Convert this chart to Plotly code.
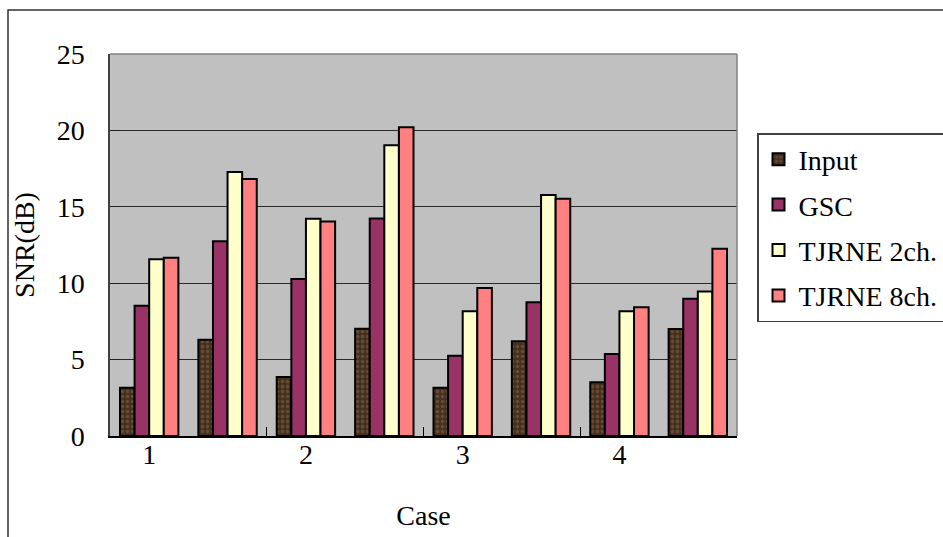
import plotly.graph_objects as go

# SNR (dB) per configuration; two configurations per case, eight bar groups total
case_labels = ["1", "2", "3", "4"]
group_pos = [0, 1, 2, 3, 4, 5, 6, 7]

snr_input = [3.16, 6.30, 3.86, 7.02, 3.16, 6.20, 3.51, 7.00]
snr_gsc = [8.53, 12.74, 10.27, 14.24, 5.26, 8.75, 5.37, 8.99]
snr_tjrne2 = [11.56, 17.28, 14.22, 19.02, 8.16, 15.77, 8.16, 9.45]
snr_tjrne8 = [11.67, 16.82, 14.03, 20.20, 9.69, 15.53, 8.42, 12.26]

series_names = ["Input", "GSC", "TJRNE 2ch.", "TJRNE 8ch."]
y_ticks = [0, 5, 10, 15, 20, 25]

FONT = "Liberation Serif, Times New Roman, serif"

fig = go.Figure()

fig.add_trace(go.Bar(
    x=group_pos, y=snr_input, name=series_names[0], legendgroup="a",
    marker=dict(color="#4a3020", line=dict(color="black", width=2),
                pattern=dict(shape=".", fgcolor="#8a6a4c", bgcolor="#46301f",
                             size=5, solidity=0.35)),
))
fig.add_trace(go.Bar(
    x=group_pos, y=snr_gsc, name=series_names[1], legendgroup="b",
    marker=dict(color="#993366", line=dict(color="black", width=2)),
))
fig.add_trace(go.Bar(
    x=group_pos, y=snr_tjrne2, name=series_names[2], legendgroup="c",
    marker=dict(color="#FFFFCC", line=dict(color="black", width=2)),
))
fig.add_trace(go.Bar(
    x=group_pos, y=snr_tjrne8, name=series_names[3], legendgroup="d",
    marker=dict(color="#FF8080", line=dict(color="black", width=2)),
))

L, R, T, B = 110, 206, 54, 101
W, H = 943, 537
pw, ph = W - L - R, H - T - B

fig.update_layout(
    width=W, height=H,
    margin=dict(l=L, r=R, t=T, b=B, autoexpand=False),
    paper_bgcolor="white",
    plot_bgcolor="#C0C0C0",
    barmode="group",
    bargap=0.255,
    bargroupgap=0,
    font=dict(family=FONT, size=28, color="black"),
    showlegend=True,
    legend=dict(
        x=(757 - L) / pw, y=(H - B - 133) / ph, xanchor="left", yanchor="top",
        bgcolor="white", bordercolor="#404040", borderwidth=1.5,
        font=dict(family=FONT, size=28, color="black"),
        traceorder="grouped", tracegroupgap=6,
        itemwidth=30,
    ),
    xaxis=dict(
        range=[-0.5, 7.5],
        tickmode="array", tickvals=[0, 2, 4, 6], ticktext=case_labels,
        ticks="", ticklabelstandoff=-8,
        minor=dict(tickmode="array", tickvals=[1.5, 3.5, 5.5],
                   ticks="inside", ticklen=9, tickcolor="black", tickwidth=1),
        showgrid=False, zeroline=False,
        showline=True, linecolor="black", linewidth=2,
        title=dict(text="Case", standoff=37, font=dict(family=FONT, size=28)),
    ),
    yaxis=dict(
        range=[0, 25],
        tickmode="array", tickvals=y_ticks,
        ticks="inside", ticklen=9, tickcolor="#202020",
        ticklabelstandoff=18,
        showgrid=True, gridcolor="#2a2a2a", gridwidth=1,
        zeroline=False,
        showline=True, linecolor="#404040", linewidth=1.5,
        title=dict(text="SNR(dB)", standoff=14, font=dict(family=FONT, size=28)),
    ),
    shapes=[
        # grey frame on the top and right of the plotting area
        dict(type="line", xref="paper", yref="paper", x0=0, x1=1, y0=1, y1=1,
             line=dict(color="#808080", width=1.5)),
        dict(type="line", xref="paper", yref="paper", x0=1, x1=1, y0=0, y1=1,
             line=dict(color="#808080", width=1.5)),
        # outer chart border
        dict(type="rect", xref="paper", yref="paper",
             x0=(8 - L) / pw, x1=(W + 20 - L) / pw,
             y0=-(B + 20) / ph, y1=(H - B - 10) / ph,
             line=dict(color="#303030", width=1.5), layer="below"),
    ],
)

fig.write_html("out.html")
